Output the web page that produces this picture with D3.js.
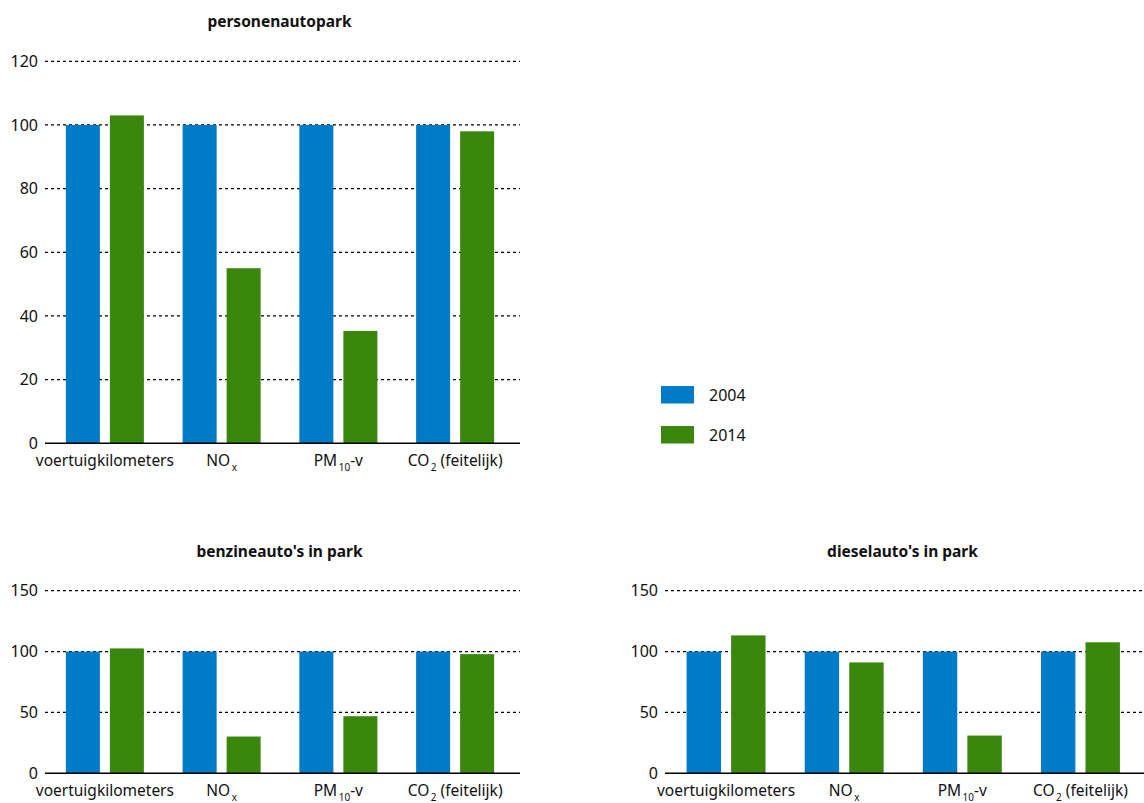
<!DOCTYPE html>
<html><head><meta charset="utf-8">
<script src="https://cdn.jsdelivr.net/npm/d3@7"></script>
<style>body{margin:0;background:#fff}svg{display:block}text{font-family:"Noto Sans","Open Sans",sans-serif;fill:#111}</style>
</head><body>
<svg id="c" width="1144" height="803"></svg>
<script>
const categories = ["voertuigkilometers","NOx","PM10-v","CO2 (feitelijk)"];
const series = ["2004","2014"];
const colors = ["#007BC7","#39870C"];
const parkValues2004 = [100,100,100,100];
const parkValues2014 = [103,55,35.3,98];
const benzineValues2004 = [100,100,100,100];
const benzineValues2014 = [102.6,30.2,46.9,97.9];
const dieselValues2004 = [100,100,100,100];
const dieselValues2014 = [113.3,91.1,31,107.6];
const ticksTop = [0,20,40,60,80,100,120];
const ticksBottom = [0,50,100,150];
const titles = ["personenautopark","benzineauto's in park","dieselauto's in park"];

const svg = d3.select("#c");

// label parts: [main, sub, rest]
const labelParts = {
  "voertuigkilometers":["voertuigkilometers","",""],
  "NOx":["NO","x",""],
  "PM10-v":["PM","10","-v"],
  "CO2 (feitelijk)":["CO","2"," (feitelijk)"]
};

function panel(cfg){
  const g = svg.append("g");
  const x = d3.scaleBand().domain(categories).range([cfg.x0, cfg.x1]);
  const xs = d3.scaleBand().domain(series).range([0, x.bandwidth()]).paddingInner(10/44).paddingOuter(0.44);
  const y = d3.scaleLinear().domain([0, cfg.max]).range([cfg.yb, cfg.yt]);

  // title
  g.append("text").attr("x",(cfg.gx0+cfg.gx1)/2 - 3).attr("y",cfg.yt-34)
    .attr("text-anchor","middle").attr("font-size",15.5).attr("font-weight","bold").text(cfg.title);

  // y axis labels
  const gy = d3.axisLeft(y).tickValues(cfg.ticks).tickSize(0).tickPadding(7);
  const ax = g.append("g").attr("transform",`translate(${cfg.gx0},0)`).call(gy);
  ax.select(".domain").remove();
  ax.selectAll("text").attr("font-size",16).attr("font-family","Noto Sans, sans-serif").attr("fill","#111");

  // grid
  g.selectAll(".grid").data(cfg.ticks.filter(t=>t>0)).join("line")
    .attr("x1",cfg.gx0).attr("x2",cfg.gx1).attr("y1",d=>y(d)).attr("y2",d=>y(d))
    .attr("stroke","#000").attr("stroke-width",1.3).attr("stroke-dasharray","3,3");

  // bars
  const data = [];
  categories.forEach((c,i)=>{
    data.push({c, s:"2004", v:cfg.v1[i]});
    data.push({c, s:"2014", v:cfg.v2[i]});
  });
  g.selectAll(".bar").data(data).join("rect")
    .attr("x",d=>x(d.c)+xs(d.s)).attr("width",xs.bandwidth())
    .attr("y",d=>y(d.v)).attr("height",d=>y(0)-y(d.v))
    .attr("fill",d=>colors[series.indexOf(d.s)]);

  // zero line
  g.append("line").attr("x1",cfg.gx0).attr("x2",cfg.gx1).attr("y1",y(0)).attr("y2",y(0))
    .attr("stroke","#000").attr("stroke-width",1.6);

  // x labels
  categories.forEach(c=>{
    const p = labelParts[c];
    const t = g.append("text").attr("x",x(c)+x.bandwidth()/2).attr("y",y(0)+22.5)
      .attr("text-anchor","middle").attr("font-size",15.5);
    t.append("tspan").text(p[0]);
    if(p[1]){
      t.append("tspan").attr("font-size",10).attr("dx",1.5).attr("dy",5.5).text(p[1]);
      if(p[2]) t.append("tspan").attr("dy",-5.5).text(p[2]);
    }
  });
}

panel({title:titles[0], x0:46.5, x1:513.5, gx0:45, gx1:520, yt:61.3, yb:443.3, max:120, ticks:ticksTop, v1:parkValues2004, v2:parkValues2014});
panel({title:titles[1], x0:46.5, x1:513.5, gx0:45, gx1:520, yt:590.7, yb:773.3, max:150, ticks:ticksBottom, v1:benzineValues2004, v2:benzineValues2014});
panel({title:titles[2], x0:667, x1:1139.5, gx0:665, gx1:1146, yt:590.7, yb:773.3, max:150, ticks:ticksBottom, v1:dieselValues2004, v2:dieselValues2014});

// legend
const lg = svg.append("g");
series.forEach((s,i)=>{
  lg.append("rect").attr("x",661).attr("y",386+i*40).attr("width",33).attr("height",17.5).attr("fill",colors[i]);
  lg.append("text").attr("x",709).attr("y",386+i*40+14.5).attr("font-size",16).text(s);
});
</script>
</body></html>
